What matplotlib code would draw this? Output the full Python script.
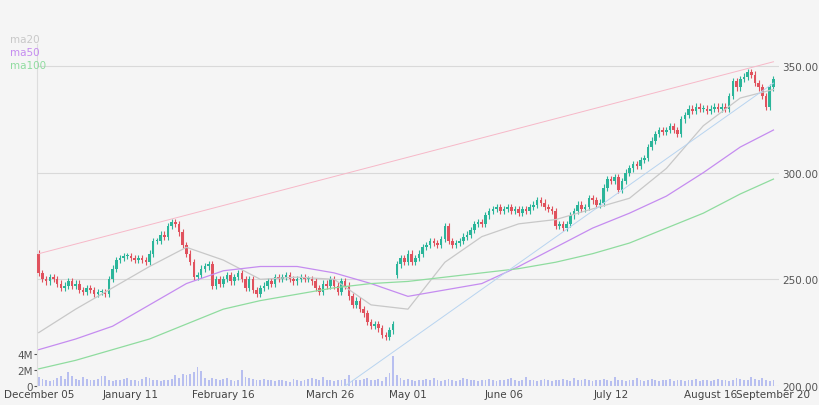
import matplotlib
matplotlib.use("Agg")
import matplotlib.pyplot as plt
import numpy as np

closes = [253,250,249,251,250,248,246,247,249,247,
          248,245,244,246,245,243,244,244,243,250,
          255,259,260,261,261,260,259,260,259,258,
          262,268,268,271,270,275,277,276,272,266,
          262,258,251,252,255,256,257,247,250,248,
          250,252,249,251,253,250,246,250,245,243,
          246,247,249,248,251,250,251,252,250,249,
          250,251,250,250,249,246,244,248,247,250,
          247,244,249,247,242,238,240,236,234,230,
          228,229,227,224,223,226,229,257,260,258,
          262,258,260,262,265,266,268,267,266,269,
          275,268,266,267,268,270,271,273,276,277,
          276,280,282,283,284,282,283,284,282,283,
          281,283,282,284,285,287,286,284,283,282,
          275,276,274,276,280,282,285,283,284,288,
          287,285,286,293,297,296,298,292,296,300,
          302,304,303,306,307,312,315,318,320,319,
          320,322,320,318,325,327,330,329,331,330,
          330,329,330,331,330,331,330,336,343,340,
          344,345,347,346,342,340,336,331,340,344]
first_open = 262
gap_index = 97
gap_open = 252
volume = [1.1,0.9,0.7,0.6,0.8,1.0,1.2,0.9,1.7,1.3,
          0.9,0.8,1.1,0.9,0.7,0.8,0.9,1.3,1.2,0.8,
          0.6,0.7,0.8,0.9,1.0,0.8,0.7,0.6,0.9,1.1,
          1.0,0.8,0.7,0.6,0.7,0.8,0.9,1.4,1.0,1.5,
          1.4,1.5,1.7,2.4,1.9,1.0,0.8,1.0,0.9,0.8,
          0.9,1.0,0.7,0.6,0.8,2.0,1.1,1.0,0.9,0.8,
          0.7,0.9,0.8,0.7,0.6,0.8,0.7,0.6,0.5,0.9,
          0.8,0.6,0.8,0.9,1.0,0.9,0.8,1.1,0.7,0.8,
          0.6,0.7,0.8,0.9,1.4,0.8,0.7,0.8,0.9,1.0,
          0.7,0.8,0.9,0.6,1.1,1.6,3.7,1.4,1.0,0.8,
          0.9,0.7,0.6,0.8,0.7,0.9,0.8,1.0,0.7,0.6,
          0.8,0.9,0.7,0.6,0.8,1.0,0.9,0.7,0.8,0.6,
          0.7,0.8,0.9,0.7,0.6,0.8,0.7,0.9,1.0,0.8,
          0.6,0.7,1.1,0.8,0.7,0.6,0.8,0.9,0.7,0.6,
          0.8,0.7,0.9,0.8,0.6,1.0,0.7,0.8,0.9,0.7,
          0.6,0.8,0.7,0.9,0.8,0.6,1.1,0.7,0.8,0.6,
          0.7,0.8,1.0,0.7,0.6,0.8,0.9,0.7,0.6,0.8,
          0.7,0.9,0.6,0.8,0.7,0.6,0.8,0.7,0.9,0.6,
          0.7,0.8,0.6,0.7,0.9,0.8,0.7,0.6,0.8,1.0,
          0.9,0.8,0.7,1.1,0.9,0.8,1.0,0.7,0.6,0.8]

ma_idx = [0,10,20,30,40,50,60,70,80,90,100,110,120,130,140,150,160,170,180,190,199]
ma20 = [225,236,246,256,265,259,250,251,250,238,236,258,270,276,278,283,288,302,322,335,339]
ma50 = [217,222,228,238,248,254,256,256,253,248,242,245,248,256,265,274,281,289,300,312,320]
ma100 = [208,212,217,222,229,236,240,243,246,248,249,251,253,255,258,262,267,274,281,290,297]

trend_pink = ([0,199],[262,352])
trend_blue = ([83,199],[200,342])

tick_idx = [0,25,50,79,100,126,155,182,199]
tick_labels = ["December 05","January 11","February 16","March 26","May 01",
               "June 06","July 12","August 16","September 20"]

bg = "#f5f5f5"
fig = plt.figure(figsize=(8.2,4.06), dpi=100, facecolor=bg)
rect = [0.045,0.047,0.905,0.842]
ax = fig.add_axes(rect, facecolor="none")
axv = fig.add_axes(rect, facecolor=bg, zorder=-1)
ax.set_zorder(1)

n = len(closes)
x = np.arange(n)
opens = [first_open] + closes[:-1]
opens[gap_index] = gap_open
up_c, dn_c = "#2bb59a", "#e0525e"
for i in x:
    o, c = opens[i], closes[i]
    col = up_c if c >= o else dn_c
    hi, lo = max(o,c)+1.5, min(o,c)-1.5
    ax.vlines(i, lo, hi, color=col, lw=0.8)
    h = max(abs(c-o), 0.5)
    ax.bar(i, h, bottom=min(o,c), width=0.7, color=col, lw=0)

ax.plot(ma_idx, ma20, color="#c8c8c8", lw=0.9)
ax.plot(ma_idx, ma50, color="#c58cf0", lw=0.9)
ax.plot(ma_idx, ma100, color="#8fdc9f", lw=0.9)
ax.plot(*trend_pink, color="#f7b8c8", lw=0.7)
ax.plot(*trend_blue, color="#b8d4f0", lw=0.7)

ax.set_xlim(-0.5, n+0.5)
ax.set_ylim(200, 360.3)
ax.yaxis.tick_right()
ax.set_yticks([200,250,300,350])
ax.set_yticklabels(["200.00","250.00","300.00","350.00"])
ax.grid(axis="y", color="#d9d9d9", lw=0.8)
ax.set_axisbelow(True)
ax.tick_params(axis="y", length=0, labelsize=7.5, colors="#555555", pad=2)
ax.set_xticks(tick_idx)
ax.set_xticklabels(tick_labels)
ax.tick_params(axis="x", length=0, labelsize=7.5, colors="#444444", pad=2)
for s in ax.spines.values():
    s.set_visible(False)

axv.bar(x, volume, width=0.5, color="#b8bff0", lw=0)
axv.set_xlim(-0.5, n+0.5)
axv.set_ylim(0, 42.75)
axv.set_yticks([0,2,4])
axv.set_yticklabels(["0","2M","4M"])
axv.tick_params(axis="y", length=2, labelsize=7.5, colors="#555555", pad=1)
axv.set_xticks([])
for k, s in axv.spines.items():
    s.set_visible(k == "left")
axv.spines["left"].set_color("#dddddd")

fig.text(0.012, 0.893, "ma20", color="#c8c8c8", fontsize=7.5)
fig.text(0.012, 0.862, "ma50", color="#c58cf0", fontsize=7.5)
fig.text(0.012, 0.831, "ma100", color="#8fdc9f", fontsize=7.5)

fig.savefig("out.png", dpi=100, facecolor=bg)
